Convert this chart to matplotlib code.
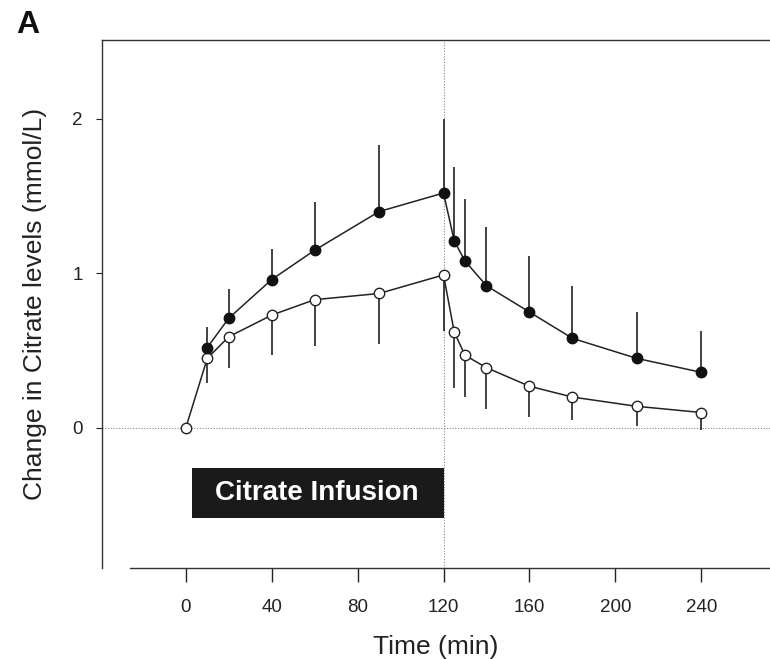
import numpy as np
import matplotlib
matplotlib.use('Agg')
import matplotlib.pyplot as plt

plt.rcParams['font.family'] = ['Liberation Sans', 'DejaVu Sans']

# tiempos (min)
tiempo = [10, 20, 40, 60, 90, 120, 125, 130, 140, 160, 180, 210, 240]
# serie llena (circulos negros) y su barra hacia arriba
lleno = [0.52, 0.71, 0.96, 1.15, 1.40, 1.52, 1.21, 1.08, 0.92, 0.75, 0.58, 0.45, 0.36]
lleno_sup = [0.65, 0.90, 1.16, 1.46, 1.83, 2.00, 1.69, 1.48, 1.30, 1.11, 0.92, 0.75, 0.63]

# serie abierta (circulos blancos) y su barra hacia abajo
tiempo_ab = [0, 10, 20, 40, 60, 90, 120, 125, 130, 140, 160, 180, 210, 240]
abierto = [0.0, 0.45, 0.59, 0.73, 0.83, 0.87, 0.99, 0.62, 0.47, 0.39, 0.27, 0.20, 0.14, 0.10]
abierto_inf = [0.0, 0.29, 0.39, 0.47, 0.53, 0.54, 0.63, 0.26, 0.20, 0.12, 0.07, 0.05, 0.01, -0.01]

xticks = [0, 40, 80, 120, 160, 200, 240]
yticks = [0, 1, 2]

fig = plt.figure(figsize=(7.7, 6.59), dpi=100)
ax = fig.add_axes([102/770, 91/659, 668/770, 528/659])

# lineas de referencia punteadas
ax.axhline(0, color='#888888', lw=0.8, ls=(0, (1, 1.5)), zorder=1)
ax.axvline(120, color='#888888', lw=0.8, ls=(0, (1, 1.5)), zorder=1)

# barras de error
err_ab = [np.array(abierto) - np.array(abierto_inf), np.zeros(len(abierto))]
ax.errorbar(tiempo_ab, abierto, yerr=err_ab, fmt='none', ecolor='#222222',
	elinewidth=1.2, capsize=0, zorder=2)
err_ll = [np.zeros(len(lleno)), np.array(lleno_sup) - np.array(lleno)]
ax.errorbar(tiempo, lleno, yerr=err_ll, fmt='none', ecolor='#222222',
	elinewidth=1.2, capsize=0, zorder=2)

ax.plot(tiempo_ab, abierto, '-o', color='#222222', lw=1.1, ms=7.5,
	mfc='white', mec='#222222', mew=1.0, zorder=3)
ax.plot(tiempo, lleno, '-o', color='#222222', lw=1.1, ms=7.5,
	mfc='#111111', mec='#111111', zorder=4)

# caja de la infusion
ax.fill_between([2.8, 120], -0.58, -0.26, color='#1a1a1a', lw=0, zorder=2)
ax.text(61, -0.42, 'Citrate Infusion', color='white', fontsize=20,
	fontweight='bold', ha='center', va='center', zorder=5)

ax.set_xlim(-39, 272)
ax.set_ylim(-0.906, 2.51)

ax.spines['right'].set_visible(False)
ax.spines['bottom'].set_bounds(-26, 272)
for s in ['left', 'top', 'bottom']:
	ax.spines[s].set_linewidth(1.0)
	ax.spines[s].set_color('#333333')

ax.set_xticks(xticks)
ax.set_yticks(yticks)
ax.tick_params(axis='x', length=10, width=1.0, pad=12, labelsize=13.5,
	colors='#222222')
ax.tick_params(axis='y', length=4, width=0.8, pad=10, labelsize=13.5,
	colors='#222222')

ax.set_xlabel('Time (min)', fontsize=19, color='#222222', labelpad=14)
ax.set_ylabel('Change in Citrate levels (mmol/L)', fontsize=19,
	color='#222222', labelpad=18)

fig.text(16/770, 1 - 33/659, 'A', fontsize=23, fontweight='bold',
	color='#111111')

fig.savefig('out.png', dpi=100)
